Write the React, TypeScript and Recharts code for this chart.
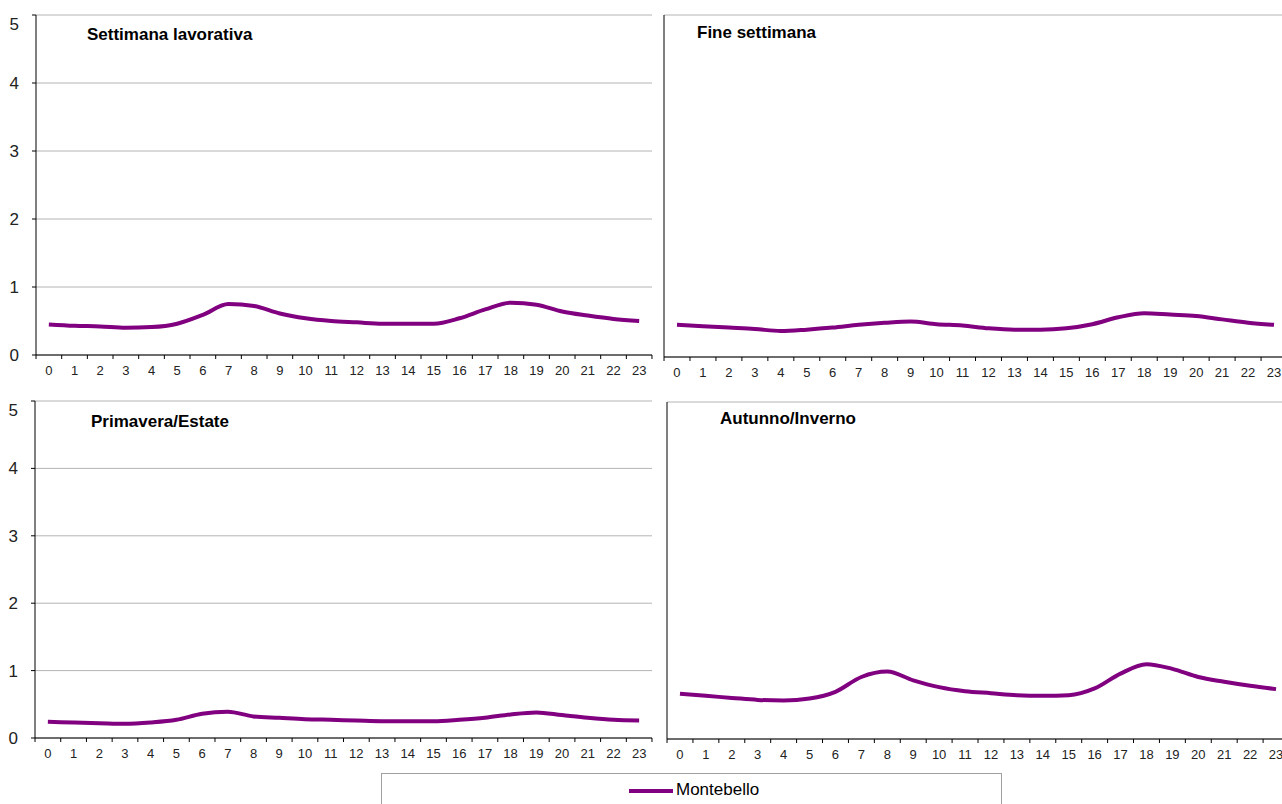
import React from 'react';
import { LineChart, Line, XAxis, YAxis, CartesianGrid } from 'recharts';

// ore del giorno
const hours = [0, 1, 2, 3, 4, 5, 6, 7, 8, 9, 10, 11, 12, 13, 14, 15, 16, 17, 18, 19, 20, 21, 22, 23];
const yTicks = [0, 1, 2, 3, 4, 5];

const settimanaLavorativa = [0.45, 0.43, 0.42, 0.40, 0.41, 0.46, 0.59, 0.75, 0.72, 0.61, 0.54, 0.50, 0.48, 0.46, 0.46, 0.46, 0.54, 0.67, 0.77, 0.74, 0.64, 0.58, 0.53, 0.50];
const fineSettimana = [0.47, 0.45, 0.43, 0.41, 0.38, 0.40, 0.43, 0.47, 0.50, 0.52, 0.48, 0.46, 0.42, 0.40, 0.40, 0.42, 0.48, 0.58, 0.64, 0.62, 0.60, 0.55, 0.50, 0.47];
const primaveraEstate = [0.24, 0.23, 0.22, 0.21, 0.23, 0.27, 0.36, 0.39, 0.32, 0.30, 0.28, 0.27, 0.26, 0.25, 0.25, 0.25, 0.27, 0.30, 0.35, 0.38, 0.34, 0.30, 0.27, 0.26];
const autunnoInverno = [0.67, 0.64, 0.61, 0.58, 0.57, 0.60, 0.70, 0.92, 1.00, 0.87, 0.77, 0.71, 0.68, 0.65, 0.64, 0.65, 0.75, 0.97, 1.11, 1.04, 0.92, 0.85, 0.79, 0.74];

const seriesName = 'Montebello';
const FONT = "Arial, 'Liberation Sans', sans-serif";
const PURPLE = '#800080';
const GRID = '#b4b4b4';
const X_H = 30;

interface PanelProps {
  title: string;
  values: number[];
  plot: { left: number; top: number; right: number; bottom: number };
  title_xy: [number, number];
  yLabels: boolean;
  rightBorder: boolean;
}

const Panel: React.FC<PanelProps> = ({ title, values, plot, title_xy, yLabels, rightBorder }) => {
  const data = hours.map((h, i) => ({ h, v: values[i] }));
  const yW = yLabels ? 36 : 8;
  const left = plot.left - yW;
  const top = plot.top - 1;
  const width = plot.right - left + 2;
  const height = plot.bottom - top + X_H;
  const bw = (plot.right - plot.left) / 24;
  const axisY = plot.bottom - top;

  const hourTick = (p: any) => {
    const bx = p.x - bw / 2;
    return (
      <g>
        <line x1={bx} y1={axisY} x2={bx} y2={axisY + 4} stroke="#000" />
        {p.index === hours.length - 1 && (
          <line x1={bx + bw} y1={axisY} x2={bx + bw} y2={axisY + 4} stroke="#000" />
        )}
        <text x={p.x} y={axisY + 11} dy="0.71em" textAnchor="middle" fill="#222" fontSize={13} fontFamily={FONT}>
          {p.payload.value}
        </text>
      </g>
    );
  };

  return (
    <>
      <div style={{ position: 'absolute', left, top }}>
        <LineChart width={width} height={height} data={data} margin={{ top: 1, right: 1, left: 0, bottom: 0 }}>
          <CartesianGrid vertical={false} stroke={GRID} />
          <XAxis
            dataKey="h"
            type="number"
            domain={[-0.5, 23.5]}
            ticks={hours}
            interval={0}
            height={X_H}
            axisLine={{ stroke: '#000' }}
            tickLine={false}
            tick={hourTick}
          />
          <YAxis
            domain={[0, 5]}
            ticks={yTicks}
            width={yW}
            axisLine={{ stroke: '#000' }}
            tickLine={{ stroke: '#000' }}
            tickSize={4}
            tickMargin={13}
            tick={yLabels ? { fill: '#222', fontSize: 17, fontFamily: FONT } : false}
          />
          {rightBorder && (
            <YAxis
              yAxisId="r"
              orientation="right"
              width={0}
              domain={[0, 5]}
              tick={false}
              tickLine={false}
              axisLine={{ stroke: GRID }}
            />
          )}
          <Line
            type="monotone"
            dataKey="v"
            name={seriesName}
            stroke={PURPLE}
            strokeWidth={4}
            dot={false}
            isAnimationActive={false}
          />
        </LineChart>
      </div>
      <div
        style={{
          position: 'absolute',
          left: title_xy[0],
          top: title_xy[1],
          fontFamily: FONT,
          fontWeight: 'bold',
          fontSize: 17,
          lineHeight: '20px',
          color: '#000',
          whiteSpace: 'nowrap',
        }}
      >
        {title}
      </div>
    </>
  );
};

const App: React.FC = () => {
  return (
    <div style={{ position: 'absolute', left: 0, top: 0, width: 1282, height: 804, overflow: 'hidden', background: '#fff' }}>
      <Panel
        title="Settimana lavorativa"
        values={settimanaLavorativa}
        plot={{ left: 36, top: 15, right: 651, bottom: 355 }}
        title_xy={[87, 25]}
        yLabels
        rightBorder
      />
      <Panel
        title="Fine settimana"
        values={fineSettimana}
        plot={{ left: 664, top: 15, right: 1286, bottom: 357 }}
        title_xy={[697, 23]}
        yLabels={false}
        rightBorder={false}
      />
      <Panel
        title="Primavera/Estate"
        values={primaveraEstate}
        plot={{ left: 35, top: 401, right: 651, bottom: 738 }}
        title_xy={[91, 412]}
        yLabels
        rightBorder
      />
      <Panel
        title="Autunno/Inverno"
        values={autunnoInverno}
        plot={{ left: 667, top: 402, right: 1288, bottom: 739 }}
        title_xy={[720, 409]}
        yLabels={false}
        rightBorder={false}
      />
      {/* legenda */}
      <div
        style={{
          position: 'absolute',
          left: 381,
          top: 773,
          width: 621,
          height: 40,
          border: '1px solid #a0a0a0',
          boxSizing: 'border-box',
        }}
      >
        <svg width={50} height={10} style={{ position: 'absolute', left: 246, top: 12 }}>
          <line x1={1} y1={5} x2={45} y2={5} stroke={PURPLE} strokeWidth={4} />
        </svg>
        <span
          style={{
            position: 'absolute',
            left: 294,
            top: 6,
            fontFamily: FONT,
            fontSize: 17,
            lineHeight: '20px',
            color: '#000',
          }}
        >
          {seriesName}
        </span>
      </div>
    </div>
  );
};

export default App;
